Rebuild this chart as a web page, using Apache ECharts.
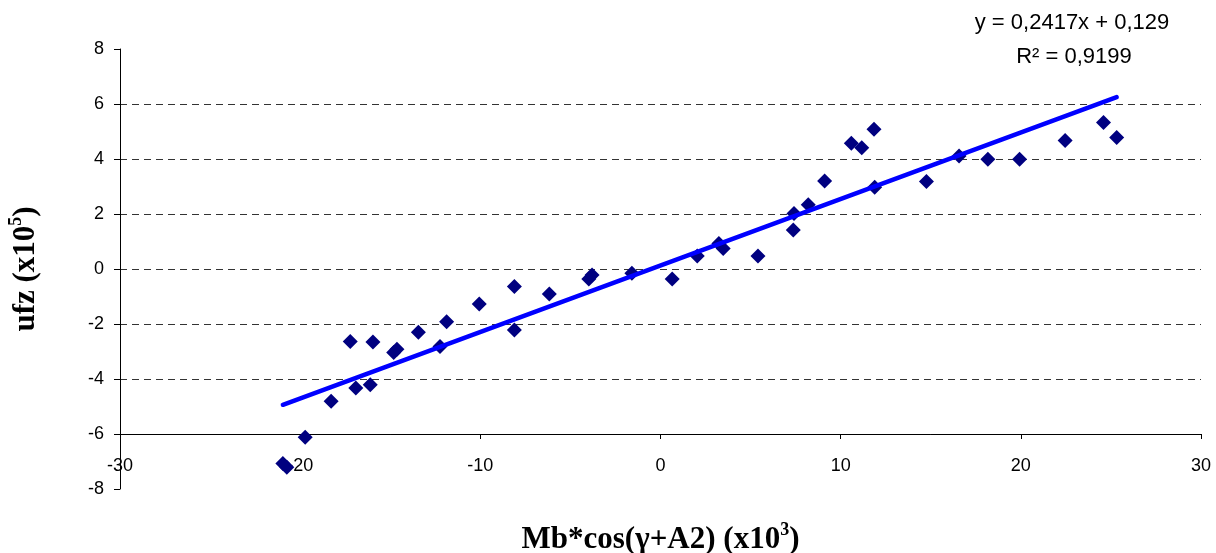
<!DOCTYPE html>
<html>
<head>
<meta charset="UTF-8">
<title>ufz vs Mb*cos</title>
<script src="https://cdn.jsdelivr.net/npm/echarts@6/dist/echarts.min.js"></script>
</head>
<body style="margin:0;background:#fff;">
<div id="main" style="width:1216px;height:553px;"></div>
<script>
// valores
var xs = [-20.96, -20.74, -19.72, -18.28, -17.22, -16.91, -16.11, -15.96, -14.81, -14.63,
          -13.44, -12.24, -11.87, -10.06, -8.11, -8.11, -6.17, -3.98, -3.80, -1.59,
          0.65, 2.04, 3.24, 3.48, 5.41, 7.37, 7.41, 8.20, 9.11, 10.59,
          11.17, 11.85, 11.89, 14.76, 16.57, 18.17, 19.93, 22.46, 24.59, 25.32];
var ys = [-7.07, -7.21, -6.12, -4.81, -2.64, -4.33, -4.21, -2.65, -3.04, -2.92,
          -2.30, -2.82, -1.92, -1.27, -0.64, -2.22, -0.91, -0.36, -0.22, -0.15,
          -0.36, 0.47, 0.93, 0.75, 0.47, 1.42, 2.02, 2.34, 3.20, 4.57,
          4.41, 5.08, 2.97, 3.18, 4.11, 3.99, 3.99, 4.67, 5.33, 4.78];
var slope = 0.2417, intercept = 0.129;
var eqText = 'y = 0,2417x + 0,129';
var r2Text = 'R\u00b2 = 0,9199';

var points = xs.map(function (x, i) { return [x, ys[i]]; });
var xmin = Math.min.apply(null, xs), xmax = Math.max.apply(null, xs);
var trend = [[xmin, slope * xmin + intercept], [xmax, slope * xmax + intercept]];

var myChart = echarts.init(document.getElementById('main'));
var labelFont = { color: '#000', fontFamily: 'Liberation Sans', fontSize: 18 };
var sup = { fontFamily: 'Liberation Serif', fontWeight: 'bold', fontSize: 18, verticalAlign: 'top', lineHeight: 32, color: '#000' };
var big = { fontFamily: 'Liberation Serif', fontWeight: 'bold', fontSize: 31, lineHeight: 37, color: '#000' };

myChart.setOption({
  backgroundColor: '#fff',
  animation: false,
  grid: { left: 120, right: 15, top: 49, bottom: 64, outerBoundsMode: 'none' },
  xAxis: {
    type: 'value', min: -30, max: 30, interval: 10,
    offset: -55, // el eje cruza en y = -6
    axisLine: { onZero: false, lineStyle: { color: '#000', width: 1 } },
    axisTick: { length: 5, lineStyle: { color: '#000' } },
    axisLabel: Object.assign({ margin: 23 }, labelFont),
    splitLine: { show: false },
    name: '{a|Mb*cos(\u03b3+A2) (x10}{s|3}{a|)}',
    nameLocation: 'middle', nameGap: 87,
    nameTextStyle: { rich: { a: big, s: sup } }
  },
  yAxis: {
    type: 'value', min: -8, max: 8, interval: 2,
    axisLine: { onZero: false, lineStyle: { color: '#000', width: 1 } },
    axisTick: { length: 6, lineStyle: { color: '#000' } },
    axisLabel: Object.assign({ margin: 16 }, labelFont),
    splitLine: {
      show: true,
      lineStyle: {
        // sin lineas en -8, -6 y 8
        color: ['transparent', 'transparent', '#333', '#333', '#333', '#333', '#333', '#333', 'transparent'],
        type: [7, 5], width: 1
      }
    },
    name: '{a|ufz (x10}{s|5}{a|)}',
    nameLocation: 'middle', nameRotate: 90, nameGap: 76,
    nameTextStyle: { rich: { a: big, s: sup } }
  },
  graphic: [
    { type: 'text', x: 1072, y: 23, style: { text: eqText, font: '22px "Liberation Sans"', fill: '#000', align: 'center', verticalAlign: 'middle' } },
    { type: 'text', x: 1074, y: 57, style: { text: r2Text, font: '22px "Liberation Sans"', fill: '#000', align: 'center', verticalAlign: 'middle' } }
  ],
  series: [
    {
      type: 'scatter', data: points, symbol: 'diamond', symbolSize: 15,
      itemStyle: { color: '#000080', opacity: 1 }, z: 2
    },
    {
      type: 'line', data: trend, showSymbol: false, symbol: 'none',
      lineStyle: { color: '#0000ff', width: 4.5, cap: 'round' }, z: 3
    }
  ]
});
</script>
</body>
</html>
